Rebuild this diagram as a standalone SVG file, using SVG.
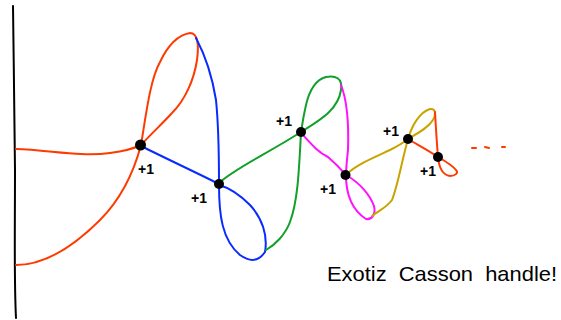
<svg xmlns="http://www.w3.org/2000/svg" width="561" height="320" viewBox="0 0 561 320">
<style>
.c{fill:none;stroke-width:2;stroke-linecap:round;stroke-linejoin:round}
.r{stroke:#ff3a00}.b{stroke:#0a2bff}.g{stroke:#12a02a}.m{stroke:#ff12ff}.y{stroke:#c8a400}.k{stroke:#000}
.dot{fill:#000}
.lbl{font-family:"Liberation Sans",Arial,sans-serif;font-size:14px;font-weight:bold;fill:#000}
.note{font-family:"Liberation Sans",Arial,sans-serif;font-size:21px;fill:#000;white-space:pre}
</style>
<rect width="561" height="320" fill="#fff"/>
<g id="connectors">
<path class="c k" d="M13,6 C14,60 14,120 15,170 C15,230 14,280 16,318"/>
<path class="c r" d="M16,149 C50,150 80,157 110,153 C125,151 135,148 141,145"/>
<path class="c r" d="M16,265 C45,265 75,245 100,220 C120,200 133,175 141,145"/>
<path class="c r" d="M141,145 C146,115 150,80 160,62 C168,45 178,35 190,33 C198,33 199,45 197,60 C194,80 185,100 172,113 C162,124 150,135 141,145"/>
<path class="c b" d="M196,38 C205,55 212,75 216,100 C219,130 219,160 219,184"/>
<path class="c b" d="M141,146 C165,158 195,172 219,184"/>
<path class="c b" d="M219,185 C219,215 222,240 240,255 C250,262 258,262 265,252 C268,235 262,218 250,205 C240,195 230,188 219,185"/>
<path class="c g" d="M219,183 C235,168 265,155 301,132"/>
<path class="c g" d="M301,132 C320,120 338,110 341,90 C343,78 335,75 326,77 C315,80 309,92 306,105 C303,118 302,126 301,132"/>
<path class="c g" d="M301,132 C299,170 298,200 290,222 C285,235 275,245 266,250"/>
<path class="c m" d="M341,85 C347,100 349,120 348,150 C347,160 346,168 346,175"/>
<path class="c m" d="M302,134 C312,145 318,152 328,157 C335,163 340,168 346,175"/>
<path class="c m" d="M346,175 C346,195 352,210 366,219 C372,220 376,214 374,206 C370,195 360,183 346,175"/>
<path class="c y" d="M346,175 C355,165 375,157 390,150 C398,146 403,143 408,139"/>
<path class="c y" d="M408,139 C402,160 398,185 392,200 C387,207 380,210 372,216"/>
<path class="c y" d="M408,139 C412,125 420,112 430,109 C436,108 436,115 433,120 C428,128 418,133 408,139"/>
<path class="c r" d="M435,112 C436,130 437,145 438,157"/>
<path class="c r" d="M408,139 C418,145 428,150 438,157"/>
<path class="c r" d="M438,157 C439,168 443,175 450,176 C455,176 459,173 456,170 C452,165 445,161 438,157"/>
<path class="c r" d="M472,148 L476,148 M485,147 L489,148 M502,147 L505,147"/>
</g>
<g id="node1"><circle class="dot" cx="140.5" cy="145" r="5.5"/><text class="lbl" x="138" y="174">+1</text></g>
<g id="node2"><circle class="dot" cx="219" cy="184" r="5"/><text class="lbl" x="191" y="203">+1</text></g>
<g id="node3"><circle class="dot" cx="301" cy="132" r="5"/><text class="lbl" x="276" y="126">+1</text></g>
<g id="node4"><circle class="dot" cx="345.5" cy="175" r="5"/><text class="lbl" x="320" y="194">+1</text></g>
<g id="node5"><circle class="dot" cx="408" cy="139" r="5"/><text class="lbl" x="383" y="136">+1</text></g>
<g id="node6"><circle class="dot" cx="438" cy="157" r="5"/><text class="lbl" x="420" y="176">+1</text></g>
<text class="note" x="327" y="281" textLength="230" lengthAdjust="spacingAndGlyphs" xml:space="preserve">Exotiz  Casson  handle!</text>
</svg>
